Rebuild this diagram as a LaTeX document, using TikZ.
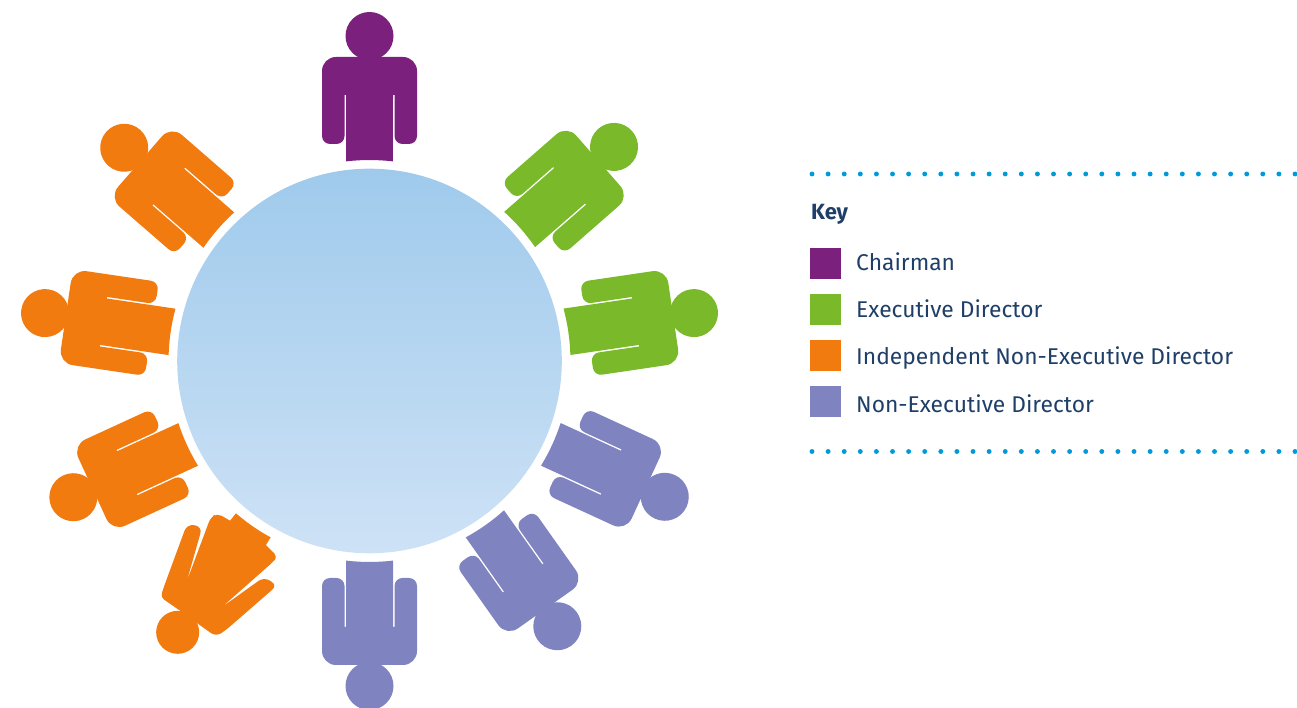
\documentclass[tikz,border=0pt]{standalone}
\usepackage{fontspec}
\setmainfont{Fira Sans}
\definecolor{cpurple}{HTML}{7B207C}
\definecolor{cgreen}{HTML}{7AB929}
\definecolor{corange}{HTML}{F27B10}
\definecolor{clav}{HTML}{7F83C0}
\definecolor{cdots}{HTML}{009ADA}
\definecolor{cnavy}{HTML}{1F3F68}
\definecolor{ctop}{HTML}{9FCAEC}
\definecolor{cbot}{HTML}{CEE2F6}
\tikzset{
  dotline/.style={draw=cdots,line width=4.9pt,line cap=round,dash pattern=on 0pt off 16.1pt},
  keybox/.style={minimum width=31pt,minimum height=31pt,inner sep=0,anchor=north west},
  keytext/.style={inner sep=0,anchor=base west,text=cnavy,font=\fontsize{22.8}{26}\selectfont},
  keyhead/.style={inner sep=0,anchor=base west,text=cnavy,font=\fontsize{22}{26}\selectfont\bfseries}
}
% #1 angle clockwise from the top, #2 colour, #3 outward stretch of the figure
\newcommand{\personfig}[3]{%
  \begin{scope}[shift={(369.5,347)},rotate=-#1]
    \fill[#2] (0,325+#3) circle (24);
    \fill[#2] (-23.5,199.6) arc[start angle=96.7,end angle=83.3,radius=201]
      -- (23.5,266+#3) -- (25,266+#3)
      [rounded corners=8] -- (25,217+#3) -- (47.5,217+#3)
      [rounded corners=14] -- (47.5,304+#3) -- (-47.5,304+#3)
      [rounded corners=8] -- (-47.5,217+#3) -- (-25,217+#3)
      [sharp corners] -- (-25,266+#3) -- (-23.5,266+#3) -- cycle;
  \end{scope}}
\begin{document}
\begin{tikzpicture}[x=1pt,y=1pt]
\useasboundingbox (0,0) rectangle (1297,708);
\shade[top color=ctop,bottom color=cbot] (369.5,347) circle (192.3);
\personfig{0}{cpurple}{0}
\personfig{48.8}{cgreen}{0}
\personfig{81.6}{cgreen}{3}
\personfig{114.7}{clav}{0}
\personfig{144.7}{clav}{0}
\personfig{180}{clav}{0}
\personfig{245.3}{corange}{1}
\personfig{278.4}{corange}{3}
\personfig{311}{corange}{0}
% the irregular figure at lower left, traced directly
\begin{scope}[shift={(140,708-500)},x=0.3333pt,y=-0.3333pt]
  \fill[corange] (113,397) circle (64.5);
  \fill[corange] (120,332)
    [rounded corners=4pt] -- (62,292) -- (70,265)
    [rounded corners=7pt] -- (141,72) -- (187,80)
    [sharp corners] -- (140,245)
    [rounded corners=5pt] -- (212,52) -- (232,40)
    [sharp corners] -- (270,62) -- (288,40) .. controls (325,72) and (360,95) .. (392,112)
    -- (378,135)
    [rounded corners=4pt] -- (412,170) -- (400,185)
    [sharp corners] -- (245,322)
    [rounded corners=6.5pt] -- (372,231) -- (412,256)
    [rounded corners=6pt] -- (258,390) -- (228,410)
    [sharp corners] -- (172,370) -- cycle;
\end{scope}
% key
\coordinate (dotsA) at (812,534);
\coordinate (dotsAe) at (1300,534);
\coordinate (dotsB) at (812,256.5);
\coordinate (dotsBe) at (1300,256.5);
\draw[dotline] (dotsA) -- (dotsAe);
\draw[dotline] (dotsB) -- (dotsBe);
\node[keyhead] (keyhd) at (811,488.7) {Key};
\node[keybox,fill=cpurple] (k1) at (810,460) {};
\node[keybox,fill=cgreen] (k2) at (810,414) {};
\node[keybox,fill=corange] (k3) at (810,368) {};
\node[keybox,fill=clav] (k4) at (810,322) {};
\node[keytext] (t1) at (856,437.7) {Chairman};
\node[keytext] (t2) at (856,390.7) {Executive Director};
\node[keytext] (t3) at (856,343.5) {Independent Non-Executive Director};
\node[keytext] (t4) at (856,295.5) {Non-Executive Director};
\end{tikzpicture}
\end{document}
